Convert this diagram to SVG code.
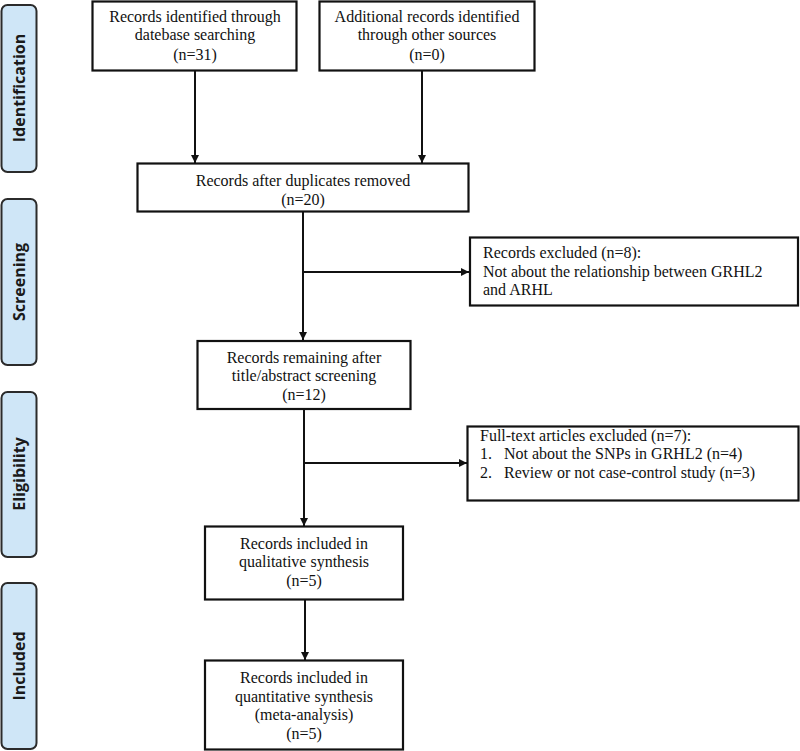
<svg xmlns="http://www.w3.org/2000/svg" width="800" height="751" viewBox="0 0 800 751">
<style>
.side{fill:#cfe6f7;stroke:#2b2b2b;stroke-width:2}
.st{font-family:"Open Sans","DejaVu Sans",sans-serif;font-weight:700;font-size:16px;fill:#1a1a1a;text-anchor:middle}
.box{fill:#fff;stroke:#111;stroke-width:2.2}
.t{font-family:"Liberation Serif","Times New Roman",serif;font-size:16px;fill:#111}
.c{text-anchor:middle}
.ln{fill:none;stroke:#111;stroke-width:2}
</style>
<defs>
<marker id="ah" markerWidth="10" markerHeight="10" refX="8" refY="4" orient="auto" markerUnits="userSpaceOnUse">
<path d="M0,0 L8,4 L0,8 Z" fill="#111"/>
</marker>
</defs>
<rect width="800" height="751" fill="#fff"/>
<g id="side-identification"><rect class="side" x="1.5" y="5" width="35" height="167" rx="6"/><text class="st" transform="translate(25,88) rotate(-90)">Identification</text></g>
<g id="side-screening"><rect class="side" x="1.5" y="199" width="35" height="166" rx="6"/><text class="st" transform="translate(25,282) rotate(-90)">Screening</text></g>
<g id="side-eligibility"><rect class="side" x="1.5" y="392" width="35" height="165" rx="6"/><text class="st" transform="translate(25,474) rotate(-90)">Eligibility</text></g>
<g id="side-included"><rect class="side" x="1.5" y="583" width="35" height="166" rx="6"/><text class="st" transform="translate(25,666) rotate(-90)">Included</text></g>

<g id="connectors">
<line class="ln" x1="195" y1="71" x2="195" y2="163" marker-end="url(#ah)"/>
<line class="ln" x1="422" y1="71" x2="422" y2="163" marker-end="url(#ah)"/>
<line class="ln" x1="303" y1="212" x2="303" y2="340" marker-end="url(#ah)"/>
<line class="ln" x1="303" y1="272" x2="469" y2="272" marker-end="url(#ah)"/>
<line class="ln" x1="304" y1="409" x2="304" y2="526" marker-end="url(#ah)"/>
<line class="ln" x1="304" y1="463" x2="467" y2="463" marker-end="url(#ah)"/>
<line class="ln" x1="305" y1="600" x2="305" y2="660" marker-end="url(#ah)"/>
</g>

<g id="n1"><rect class="box" x="92.5" y="1.5" width="204" height="69"/>
<text class="t c" x="195" y="22">Records identified through</text>
<text class="t c" x="195" y="40">datebase searching</text>
<text class="t c" x="195" y="60">(n=31)</text></g>

<g id="n2"><rect class="box" x="319.5" y="1.5" width="215" height="69"/>
<text class="t c" x="427" y="22">Additional records identified</text>
<text class="t c" x="427" y="40">through other sources</text>
<text class="t c" x="427" y="60">(n=0)</text></g>

<g id="n3"><rect class="box" x="137.5" y="163.5" width="331" height="48"/>
<text class="t c" x="303" y="186">Records after duplicates removed</text>
<text class="t c" x="303" y="205">(n=20)</text></g>

<g id="n5"><rect class="box" x="470" y="237.5" width="328" height="68"/>
<text class="t" x="483" y="258">Records excluded (n=8):</text>
<text class="t" x="483" y="277">Not about the relationship between GRHL2</text>
<text class="t" x="483" y="295">and ARHL</text></g>

<g id="n4"><rect class="box" x="197.5" y="341" width="213" height="68"/>
<text class="t c" x="304" y="363">Records remaining after</text>
<text class="t c" x="304" y="381">title/abstract screening</text>
<text class="t c" x="304" y="400">(n=12)</text></g>

<g id="n7"><rect class="box" x="467.5" y="426.5" width="331" height="74"/>
<text class="t" x="480" y="441">Full-text articles excluded (n=7):</text>
<text class="t" y="459"><tspan x="480">1.</tspan><tspan x="504">Not about the SNPs in GRHL2 (n=4)</tspan></text>
<text class="t" y="478"><tspan x="480">2.</tspan><tspan x="504">Review or not case-control study (n=3)</tspan></text></g>

<g id="n6"><rect class="box" x="205" y="526.5" width="198" height="73"/>
<text class="t c" x="304" y="549">Records included in</text>
<text class="t c" x="304" y="567">qualitative synthesis</text>
<text class="t c" x="304" y="586">(n=5)</text></g>

<g id="n8"><rect class="box" x="205" y="660.5" width="198" height="89"/>
<text class="t c" x="304" y="683">Records included in</text>
<text class="t c" x="304" y="702">quantitative synthesis</text>
<text class="t c" x="304" y="720">(meta-analysis)</text>
<text class="t c" x="304" y="739">(n=5)</text></g>
</svg>
